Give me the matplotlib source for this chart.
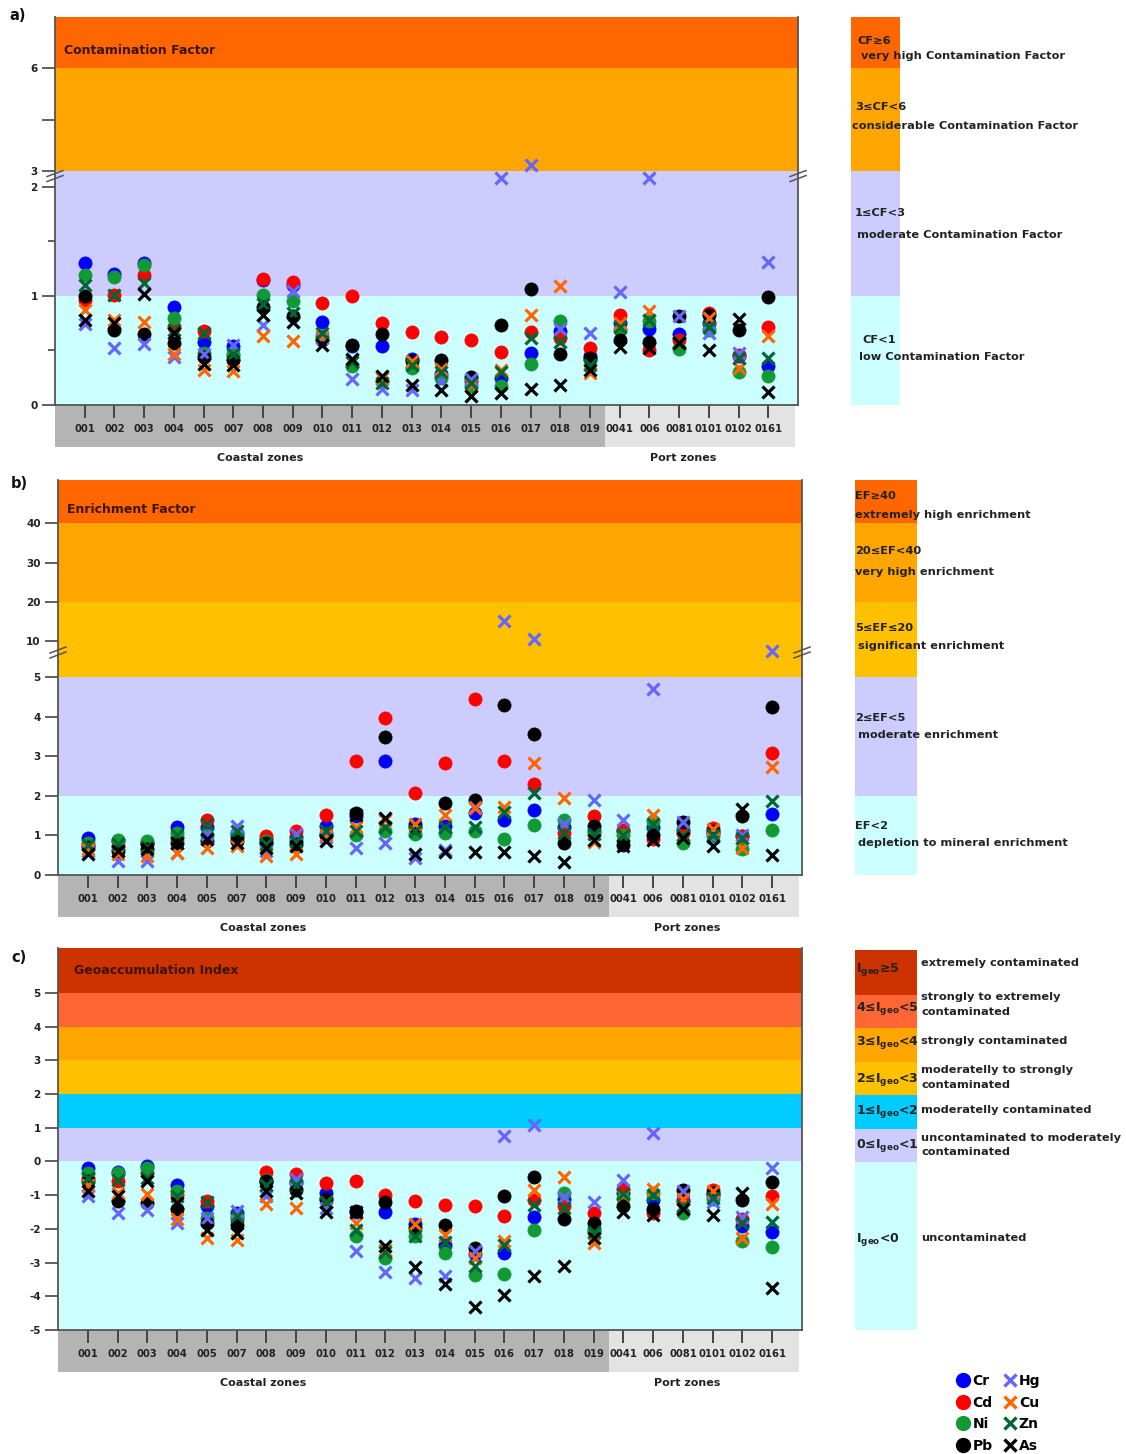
import numpy as np
import matplotlib
matplotlib.use("Agg")
import matplotlib.pyplot as plt
from matplotlib.lines import Line2D

W, H = 1126, 1454

plt.rcParams["font.family"] = ["DejaVu Sans"]
plt.rcParams["font.weight"] = "bold"
plt.rcParams["mathtext.fontset"] = "custom"
plt.rcParams["mathtext.rm"] = "DejaVu Sans:bold"
plt.rcParams["mathtext.it"] = "DejaVu Sans:bold:italic"
plt.rcParams["mathtext.bf"] = "DejaVu Sans:bold"

TXT = "#222222"

# ---------------------------------------------------------------- data
sites = ["001", "002", "003", "004", "005", "007", "008", "009", "010", "011",
         "012", "013", "014", "015", "016", "017", "018", "019",
         "0041", "006", "0081", "0101", "0102", "0161"]
n_coastal = 18

# Contamination Factor
cf_cr = [1.30, 1.20, 1.30, 0.90, 0.58, 0.54, 1.15, 1.10, 0.76, 0.54, 0.54, 0.42,
         0.28, 0.22, 0.25, 0.48, 0.68, 0.45, 0.75, 0.70, 0.65, 0.75, 0.45, 0.36]
cf_cd = [0.96, 1.01, 1.19, 0.72, 0.68, 0.45, 1.16, 1.13, 0.94, 1.00, 0.75, 0.67,
         0.62, 0.60, 0.49, 0.67, 0.61, 0.52, 0.83, 0.50, 0.60, 0.84, 0.46, 0.72]
cf_ni = [1.19, 1.17, 1.28, 0.80, 0.48, 0.47, 1.01, 0.95, 0.63, 0.36, 0.22, 0.34,
         0.25, 0.17, 0.17, 0.38, 0.77, 0.41, 0.69, 0.77, 0.51, 0.69, 0.30, 0.27]
cf_pb = [1.00, 0.69, 0.65, 0.57, 0.44, 0.41, 0.90, 0.82, 0.60, 0.55, 0.65, 0.40,
         0.41, 0.26, 0.73, 1.06, 0.47, 0.43, 0.60, 0.58, 0.82, 0.83, 0.69, 0.99]
cf_hg = [0.74, 0.52, 0.56, 0.44, 0.47, 0.55, 0.73, 1.05, 0.61, 0.24, 0.15, 0.14,
         0.22, 0.24, 2.08, 3.17, 0.70, 0.66, 1.04, 2.08, 0.82, 0.66, 0.48, 1.31]
cf_cu = [0.87, 0.78, 0.76, 0.47, 0.32, 0.31, 0.63, 0.59, 0.63, 0.41, 0.25, 0.40,
         0.33, 0.18, 0.32, 0.83, 1.09, 0.29, 0.75, 0.86, 0.57, 0.80, 0.34, 0.63]
cf_zn = [1.10, 1.01, 1.12, 0.69, 0.66, 0.47, 0.93, 0.84, 0.66, 0.39, 0.20, 0.37,
         0.30, 0.20, 0.30, 0.61, 0.58, 0.37, 0.72, 0.78, 0.58, 0.72, 0.43, 0.43]
cf_as = [0.78, 0.75, 1.02, 0.66, 0.38, 0.37, 0.83, 0.76, 0.55, 0.42, 0.27, 0.18,
         0.14, 0.08, 0.11, 0.15, 0.18, 0.32, 0.53, 0.52, 0.57, 0.50, 0.79, 0.12]

# Enrichment Factor
ef_cr = [0.94, 0.85, 0.80, 1.20, 1.20, 1.07, 0.90, 0.95, 1.24, 1.49, 2.87, 1.29,
         1.24, 1.56, 1.38, 1.65, 1.20, 1.10, 1.10, 1.21, 1.14, 1.05, 0.98, 1.54]
ef_cd = [0.75, 0.73, 0.78, 0.95, 1.38, 0.95, 0.99, 1.11, 1.51, 2.89, 3.97, 2.08,
         2.83, 4.45, 2.88, 2.30, 1.05, 1.49, 1.14, 0.90, 1.05, 1.18, 0.98, 3.08]
ef_ni = [0.82, 0.88, 0.86, 1.07, 1.00, 1.02, 0.86, 0.86, 1.04, 1.02, 1.11, 1.04,
         1.05, 1.10, 0.92, 1.27, 1.38, 1.05, 1.00, 1.36, 0.80, 0.98, 0.65, 1.14]
ef_pb = [0.70, 0.61, 0.66, 0.82, 0.86, 0.86, 0.82, 0.78, 1.00, 1.57, 3.49, 1.20,
         1.81, 1.90, 4.30, 3.57, 0.80, 1.24, 0.76, 1.01, 1.35, 1.12, 1.48, 4.24]
ef_hg = [0.60, 0.35, 0.35, 0.55, 1.04, 1.24, 0.60, 1.04, 0.95, 0.69, 0.82, 0.43,
         0.63, 1.72, 15.3, 10.7, 1.29, 1.90, 1.38, 4.70, 1.35, 0.95, 1.01, 7.7]
ef_cu = [0.66, 0.53, 0.48, 0.56, 0.69, 0.73, 0.48, 0.54, 1.00, 1.20, 1.40, 1.29,
         1.52, 1.69, 1.72, 2.83, 1.94, 0.84, 1.00, 1.52, 1.00, 1.15, 0.67, 2.74]
ef_zn = [0.75, 0.78, 0.70, 1.00, 1.29, 1.11, 0.78, 0.86, 1.11, 1.11, 1.20, 1.11,
         1.20, 1.22, 1.60, 2.08, 1.05, 1.03, 1.01, 1.30, 1.00, 1.01, 0.93, 1.86]
ef_as = [0.53, 0.61, 0.66, 0.82, 0.90, 0.82, 0.69, 0.73, 0.86, 1.52, 1.45, 0.54,
         0.59, 0.57, 0.59, 0.48, 0.34, 0.89, 0.72, 0.89, 0.93, 0.72, 1.66, 0.50]

# Geoaccumulation Index
ig_cr = [-0.20, -0.30, -0.15, -0.69, -1.33, -1.53, -0.60, -0.60, -0.94, -1.50, -1.50, -1.86,
         -2.47, -2.75, -2.72, -1.66, -1.10, -2.03, -0.93, -1.15, -1.14, -1.00, -1.93, -2.10]
ig_cd = [-0.50, -0.59, -0.35, -1.00, -1.17, -1.70, -0.32, -0.38, -0.64, -0.59, -0.99, -1.17,
         -1.29, -1.31, -1.63, -1.14, -1.33, -1.53, -0.83, -1.53, -1.20, -0.84, -1.70, -1.04]
ig_ni = [-0.35, -0.35, -0.20, -0.89, -1.68, -1.65, -0.54, -0.64, -1.15, -2.20, -2.87, -2.22,
         -2.72, -3.38, -3.33, -2.03, -0.93, -2.10, -1.08, -0.93, -1.53, -1.10, -2.37, -2.55]
ig_pb = [-0.59, -1.17, -1.22, -1.40, -1.83, -1.88, -0.59, -0.84, -1.10, -1.48, -1.19, -1.96,
         -1.90, -2.57, -1.02, -0.47, -1.71, -1.83, -1.31, -1.41, -0.84, -0.95, -1.14, -0.61]
ig_hg = [-1.04, -1.53, -1.43, -1.83, -1.68, -1.46, -1.04, -0.52, -1.38, -2.65, -3.28, -3.46,
         -3.41, -2.67, 0.74, 1.07, -1.07, -1.19, -0.54, 0.84, -0.87, -1.19, -1.66, -0.20]
ig_cu = [-0.69, -0.94, -0.97, -1.71, -2.26, -2.32, -1.27, -1.37, -1.20, -1.83, -2.62, -1.86,
         -2.17, -2.86, -2.37, -0.86, -0.47, -2.42, -1.00, -0.81, -1.10, -0.87, -2.28, -1.27]
ig_zn = [-0.49, -0.54, -0.50, -1.04, -1.19, -1.63, -0.70, -0.70, -1.19, -2.03, -2.70, -2.22,
         -2.40, -3.11, -2.47, -1.28, -1.38, -2.08, -0.98, -1.00, -1.33, -1.09, -1.83, -1.80]
ig_as = [-0.89, -1.04, -0.57, -1.24, -2.03, -2.13, -0.89, -0.94, -1.50, -1.50, -2.52, -3.12,
         -3.64, -4.33, -3.96, -3.39, -3.09, -2.28, -1.50, -1.60, -1.40, -1.60, -0.94, -3.74]

metals = ["Cr", "Cd", "Ni", "Pb", "Hg", "Cu", "Zn", "As"]
cf_data = [cf_cr, cf_cd, cf_ni, cf_pb, cf_hg, cf_cu, cf_zn, cf_as]
ef_data = [ef_cr, ef_cd, ef_ni, ef_pb, ef_hg, ef_cu, ef_zn, ef_as]
ig_data = [ig_cr, ig_cd, ig_ni, ig_pb, ig_hg, ig_cu, ig_zn, ig_as]

# class bands (lower, upper, colour)
cf_bands = [(0, 1, "#CCFFFF"), (1, 3, "#CCCCFF"), (3, 6, "#FFA500"), (6, 7.5, "#FF6600")]
ef_bands = [(0, 2, "#CCFFFF"), (2, 5, "#CCCCFF"), (5, 20, "#FFC000"),
            (20, 40, "#FFA500"), (40, 51, "#FF6600")]
ig_bands = [(-5, 0, "#CCFFFF"), (0, 1, "#CCCCFF"), (1, 2, "#00CCFF"), (2, 3, "#FFC000"),
            (3, 4, "#FFA500"), (4, 5, "#FF6633"), (5, 6.33, "#CC3300")]

styles = {
    "Cr": ("o", "#0000FF"), "Cd": ("o", "#FF0000"), "Ni": ("o", "#119933"),
    "Pb": ("o", "#000000"), "Hg": ("x", "#6666FF"), "Cu": ("x", "#FF6600"),
    "Zn": ("x", "#006633"), "As": ("x", "#000000"),
}


def rect(x0, y0, x1, y1):
    return [x0 / W, 1 - y1 / H, (x1 - x0) / W, (y1 - y0) / H]


def broken_scale(b1, b2, k):
    def fwd(y):
        y = np.asarray(y, dtype=float)
        return np.where(y <= b1, y, np.where(y >= b2, b1 + (y - b2) * k, b1))

    def inv(t):
        t = np.asarray(t, dtype=float)
        return np.where(t <= b1, t, b2 + (t - b1) / k)
    return fwd, inv


def ftext(x, y, s, **kw):
    kw.setdefault("fontsize", 8.2)
    kw.setdefault("color", TXT)
    kw.setdefault("va", "center")
    kw.setdefault("ha", "left")
    fig.text(x / W, 1 - y / H, s, **kw)


fig = plt.figure(figsize=(W / 100, H / 100), dpi=100)

x = np.arange(len(sites))


def panel(box, legbox, strip_bottom, data, bands, ylim, scale, yticks, yticklabels,
          minor, title, title_xy, letter, letter_xy, zone_y, zone_x, brk=None):
    x0, y0, x1, y1 = box
    # site strip under the plot
    sx = fig.add_axes(rect(x0, y1, x1, strip_bottom))
    sx.set_xlim(-1, len(sites))
    sx.axvspan(-1, n_coastal - 0.5, color="#B4B4B4", lw=0)
    sx.axvspan(n_coastal - 0.5, len(sites) - 0.1, color="#E3E3E3", lw=0)
    sx.set_ylim(0, 1)
    sx.axis("off")

    ax = fig.add_axes(rect(*box))
    ax.set_facecolor("none")
    if scale is not None:
        ax.set_yscale("function", functions=scale)
    for lo, hi, c in bands:
        ax.axhspan(lo, hi, color=c, lw=0, zorder=0)
    for m, vals in zip(metals, data):
        mk, col = styles[m]
        if mk == "o":
            ax.plot(x, vals, ls="none", marker="o", ms=9.5, mfc=col, mec=col,
                    mew=0.5, zorder=3)
        else:
            ax.plot(x, vals, ls="none", marker="x", ms=9, mec=col, mew=2.3, zorder=4)
    ax.set_xlim(-1, len(sites))
    ax.set_ylim(*ylim)
    ax.set_xticks(x)
    ax.set_xticklabels(sites)
    ax.set_yticks(yticks)
    ax.set_yticklabels(yticklabels)
    ax.set_yticks(minor, minor=True)
    ax.tick_params(axis="x", direction="out", length=9.5, width=1.4, color="#444444",
                   labelsize=7.2, pad=4.5, labelcolor=TXT)
    ax.tick_params(axis="y", which="major", direction="out", length=9.5, width=1.2,
                   color="#444444", labelsize=7.5, pad=3, labelcolor=TXT)
    ax.tick_params(axis="y", which="minor", direction="out", length=5, width=1.2,
                   color="#444444")
    for sp in ax.spines.values():
        sp.set_color("#555555")
        sp.set_linewidth(1.3)
    ax.spines["top"].set_visible(False)

    if brk is not None:
        wpx, hpx = x1 - x0, y1 - y0
        frac = ax.transAxes.inverted().transform(ax.transData.transform((0, brk)))[1]
        for side in (0.0, 1.0):
            for off in (-2.5, 2.5):
                ax.plot([side - 8 / wpx, side + 8 / wpx],
                        [frac + (off - 3) / hpx, frac + (off + 3) / hpx],
                        transform=ax.transAxes, clip_on=False, color="#555555",
                        lw=1.1, zorder=10)

    ax.text(title_xy[0], title_xy[1], title, transform=ax.transAxes, fontsize=9,
            color="#3a1500", ha="left", va="center")
    ftext(letter_xy[0], letter_xy[1], letter, fontsize=10.5, color="#111111")
    ftext(zone_x[0], zone_y, "Coastal zones", ha="center", fontsize=8)
    ftext(zone_x[1], zone_y, "Port zones", ha="center", fontsize=8)

    # class colour key on the right
    lx = fig.add_axes(rect(*legbox))
    if scale is not None:
        lx.set_yscale("function", functions=scale)
    for lo, hi, c in bands:
        lx.axhspan(lo, hi, color=c, lw=0)
    lx.set_ylim(*ylim)
    lx.set_xlim(0, 1)
    lx.axis("off")
    return ax


# ------------------------------------------------------------ panel a
panel(box=(55, 17, 798, 405), legbox=(851, 17, 900, 405), strip_bottom=447,
      data=cf_data, bands=cf_bands, ylim=(0, 7.5),
      scale=broken_scale(2.1, 2.85, 34.2 / 109),
      yticks=[0, 1, 2, 3, 4.5, 6], yticklabels=["0", "1", "2", "3", "", "6"],
      minor=[0.5, 1.5], title="Contamination Factor", title_xy=(0.012, 0.913),
      letter="a)", letter_xy=(9, 15), zone_y=458, zone_x=(260, 683), brk=2.1)

ftext(857, 41, "CF≥6")
ftext(861, 56, "very high Contamination Factor")
ftext(855, 107, "3≤CF<6")
ftext(852, 126, "considerable Contamination Factor")
ftext(855, 213, "1≤CF<3")
ftext(857, 235, "moderate Contamination Factor")
ftext(862, 340, "CF<1")
ftext(859, 357, "low Contamination Factor")

# ------------------------------------------------------------ panel b
panel(box=(58, 480, 802, 875), legbox=(855, 480, 917, 875), strip_bottom=917,
      data=ef_data, bands=ef_bands, ylim=(0, 51),
      scale=broken_scale(5.62, 7.2, 3.93 / 39.5),
      yticks=[0, 1, 2, 3, 4, 5, 10, 20, 30, 40],
      yticklabels=["0", "1", "2", "3", "4", "5", "10", "20", "30", "40"],
      minor=[], title="Enrichment Factor", title_xy=(0.012, 0.925),
      letter="b)", letter_xy=(11, 484), zone_y=928, zone_x=(263, 687), brk=5.62)

ftext(855, 496, "EF≥40")
ftext(855, 515, "extremely high enrichment")
ftext(855, 551, "20≤EF<40")
ftext(855, 572, "very high enrichment")
ftext(855, 628, "5≤EF≤20")
ftext(858, 646, "significant enrichment")
ftext(855, 718, "2≤EF<5")
ftext(858, 735, "moderate enrichment")
ftext(855, 826, "EF<2")
ftext(858, 843, "depletion to mineral enrichment")

# ------------------------------------------------------------ panel c
panel(box=(58, 948, 802, 1330), legbox=(855, 950, 917, 1330), strip_bottom=1372,
      data=ig_data, bands=ig_bands, ylim=(-5, 6.33), scale=None,
      yticks=list(range(-5, 6)), yticklabels=[str(v) for v in range(-5, 6)],
      minor=[], title="Geoaccumulation Index", title_xy=(0.022, 0.941),
      letter="c)", letter_xy=(11, 957), zone_y=1383, zone_x=(263, 687))

geo = r"I$_{\rm geo}$"
ftext(856, 970, geo + "≥5", fontsize=9)
ftext(856, 1009, "4≤" + geo + "<5", fontsize=9)
ftext(856, 1043, "3≤" + geo + "<4", fontsize=9)
ftext(856, 1079, "2≤" + geo + "<3", fontsize=9)
ftext(856, 1111, "1≤" + geo + "<2", fontsize=9)
ftext(856, 1145, "0≤" + geo + "<1", fontsize=9)
ftext(856, 1240, geo + "<0", fontsize=9)

ftext(921, 963, "extremely contaminated")
ftext(921, 997, "strongly to extremely")
ftext(921, 1012, "contaminated")
ftext(921, 1041, "strongly contaminated")
ftext(921, 1070, "moderatelly to strongly")
ftext(921, 1085, "contaminated")
ftext(921, 1110, "moderatelly contaminated")
ftext(921, 1138, "uncontaminated to moderately")
ftext(921, 1152, "contaminated")
ftext(921, 1238, "uncontaminated")

# ------------------------------------------------------------ metal legend
handles = []
for m in metals:
    mk, col = styles[m]
    if mk == "o":
        handles.append(Line2D([], [], ls="none", marker="o", ms=10, mfc=col, mec=col))
    else:
        handles.append(Line2D([], [], ls="none", marker="x", ms=9, mec=col, mew=2.4))
fig.legend(handles, metals, ncol=2, loc="upper left",
           bbox_to_anchor=(957 / W, 1 - 1374 / H), frameon=False, fontsize=10,
           handlelength=0.9, handletextpad=0.2, columnspacing=0.8,
           labelspacing=0.55, borderpad=0, borderaxespad=0)

fig.savefig("out.png", dpi=100, facecolor="white")
